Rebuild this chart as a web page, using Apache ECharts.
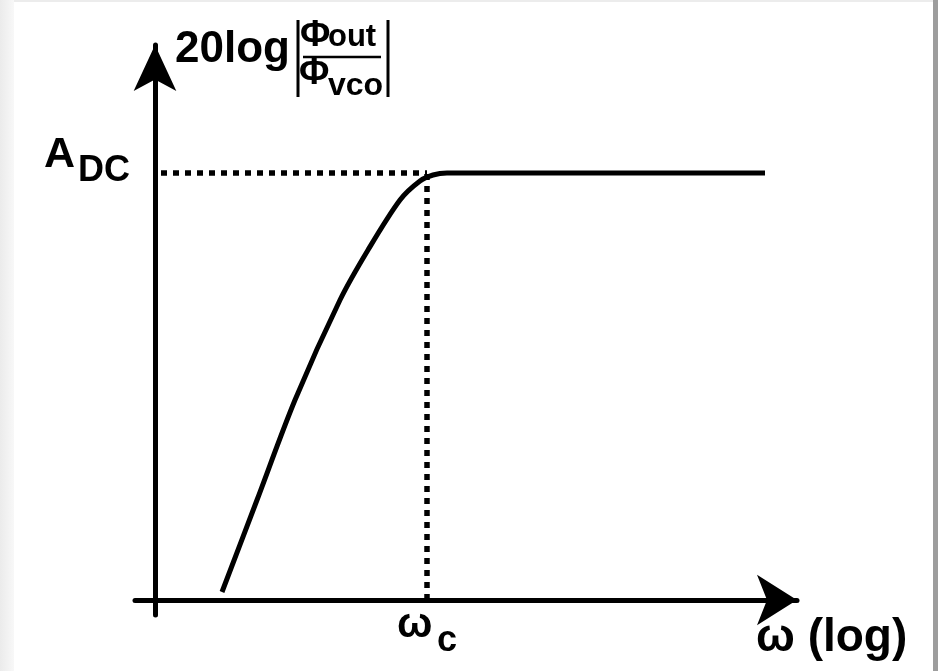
<!DOCTYPE html>
<html>
<head>
<meta charset="utf-8">
<script src="https://cdn.jsdelivr.net/npm/echarts@6/dist/echarts.min.js"></script>
<style>
  html, body { margin: 0; padding: 0; background: #ffffff; }
  #chart { width: 938px; height: 671px; }
</style>
</head>
<body>
<div id="chart"></div>
<script>
// Magnitude response sketch: gain rises with frequency and flattens at A_DC past ω_c
const omega = [67, 102, 140, 185, 213, 245, 265, 278, 292, 320, 610];
const gainDb = [8, 100, 200, 300, 350, 400, 419, 425, 427, 427, 427];
const aDC = 427;      // plateau level
const omegaC = 272;   // corner frequency
const guideStartX = 6;

const FONT = '"Liberation Sans", Arial, sans-serif';

const chart = echarts.init(document.getElementById('chart'), null, { renderer: 'canvas' });

function txt(text, x, y, size, align) {
  return {
    type: 'text',
    z: 10,
    style: {
      text: text,
      x: x,
      y: y,
      fill: '#000000',
      font: 'bold ' + size + 'px ' + FONT,
      align: align || 'left',
      verticalAlign: 'middle'
    }
  };
}

const option = {
  animation: false,
  backgroundColor: '#ffffff',
  grid: { left: 135, right: 141, top: 45, bottom: 56, containLabel: false },
  xAxis: {
    type: 'value',
    min: -20,
    max: 642,
    axisLine: {
      show: true,
      onZero: true,
      symbol: ['none', 'arrow'],
      symbolSize: [38, 40],
      lineStyle: { color: '#000000', width: 5 }
    },
    axisTick: { show: false },
    axisLabel: { show: false },
    splitLine: { show: false }
  },
  yAxis: {
    type: 'value',
    min: -15,
    max: 555,
    axisLine: {
      show: true,
      onZero: true,
      symbol: ['none', 'arrow'],
      symbolSize: [32, 46],
      lineStyle: { color: '#000000', width: 5 }
    },
    axisTick: { show: false },
    axisLabel: { show: false },
    splitLine: { show: false }
  },
  series: [
    {
      name: 'guide-h',
      type: 'line',
      data: [[guideStartX, aDC], [omegaC, aDC]],
      symbol: 'none',
      silent: true,
      lineStyle: { color: '#000000', width: 5.5, type: [6, 6], cap: 'butt' },
      z: 2
    },
    {
      name: 'guide-v',
      type: 'line',
      data: [[omegaC, 0], [omegaC, aDC]],
      symbol: 'none',
      silent: true,
      lineStyle: { color: '#000000', width: 5.5, type: [6, 6], cap: 'butt' },
      z: 2
    },
    {
      name: 'magnitude',
      type: 'line',
      data: omega.map((w, i) => [w, gainDb[i]]),
      symbol: 'none',
      smooth: 0.3,
      silent: true,
      lineStyle: { color: '#000000', width: 5, cap: 'butt' },
      z: 3
    }
  ],
  graphic: [
    // page frame
    {
      type: 'rect', z: 0, silent: true,
      shape: { x: 0, y: 0, width: 14, height: 671 },
      style: {
        fill: new echarts.graphic.LinearGradient(0, 0, 1, 0, [
          { offset: 0, color: '#ebebeb' },
          { offset: 1, color: '#f8f8f8' }
        ])
      }
    },
    {
      type: 'rect', z: 0, silent: true,
      shape: { x: 14, y: 0, width: 919, height: 2 },
      style: { fill: '#ececec' }
    },
    {
      type: 'rect', z: 0, silent: true,
      shape: { x: 933, y: 0, width: 5, height: 671 },
      style: { fill: '#9d9d9d' }
    },
    // y-axis title: 20log|Φout/Φvco|
    txt('20log', 175, 50, 44),
    txt('Φ', 300, 36, 37),
    txt('out', 328, 37, 31),
    txt('Φ', 299, 74, 37),
    txt('vco', 328, 86, 32),
    {
      type: 'line', z: 10, silent: true,
      shape: { x1: 298, y1: 20, x2: 298, y2: 97 },
      style: { stroke: '#000000', lineWidth: 3 }
    },
    {
      type: 'line', z: 10, silent: true,
      shape: { x1: 388, y1: 20, x2: 388, y2: 97 },
      style: { stroke: '#000000', lineWidth: 3 }
    },
    {
      type: 'line', z: 10, silent: true,
      shape: { x1: 303, y1: 57, x2: 381, y2: 57 },
      style: { stroke: '#000000', lineWidth: 2.5 }
    },
    // plateau label
    txt('A', 44, 155, 43),
    txt('DC', 78, 171, 36),
    // corner frequency label
    txt('ω', 397, 625, 42),
    txt('c', 437, 641, 36),
    // frequency axis title
    txt('ω (log)', 756, 638, 46)
  ]
};

chart.setOption(option);
</script>
</body>
</html>
